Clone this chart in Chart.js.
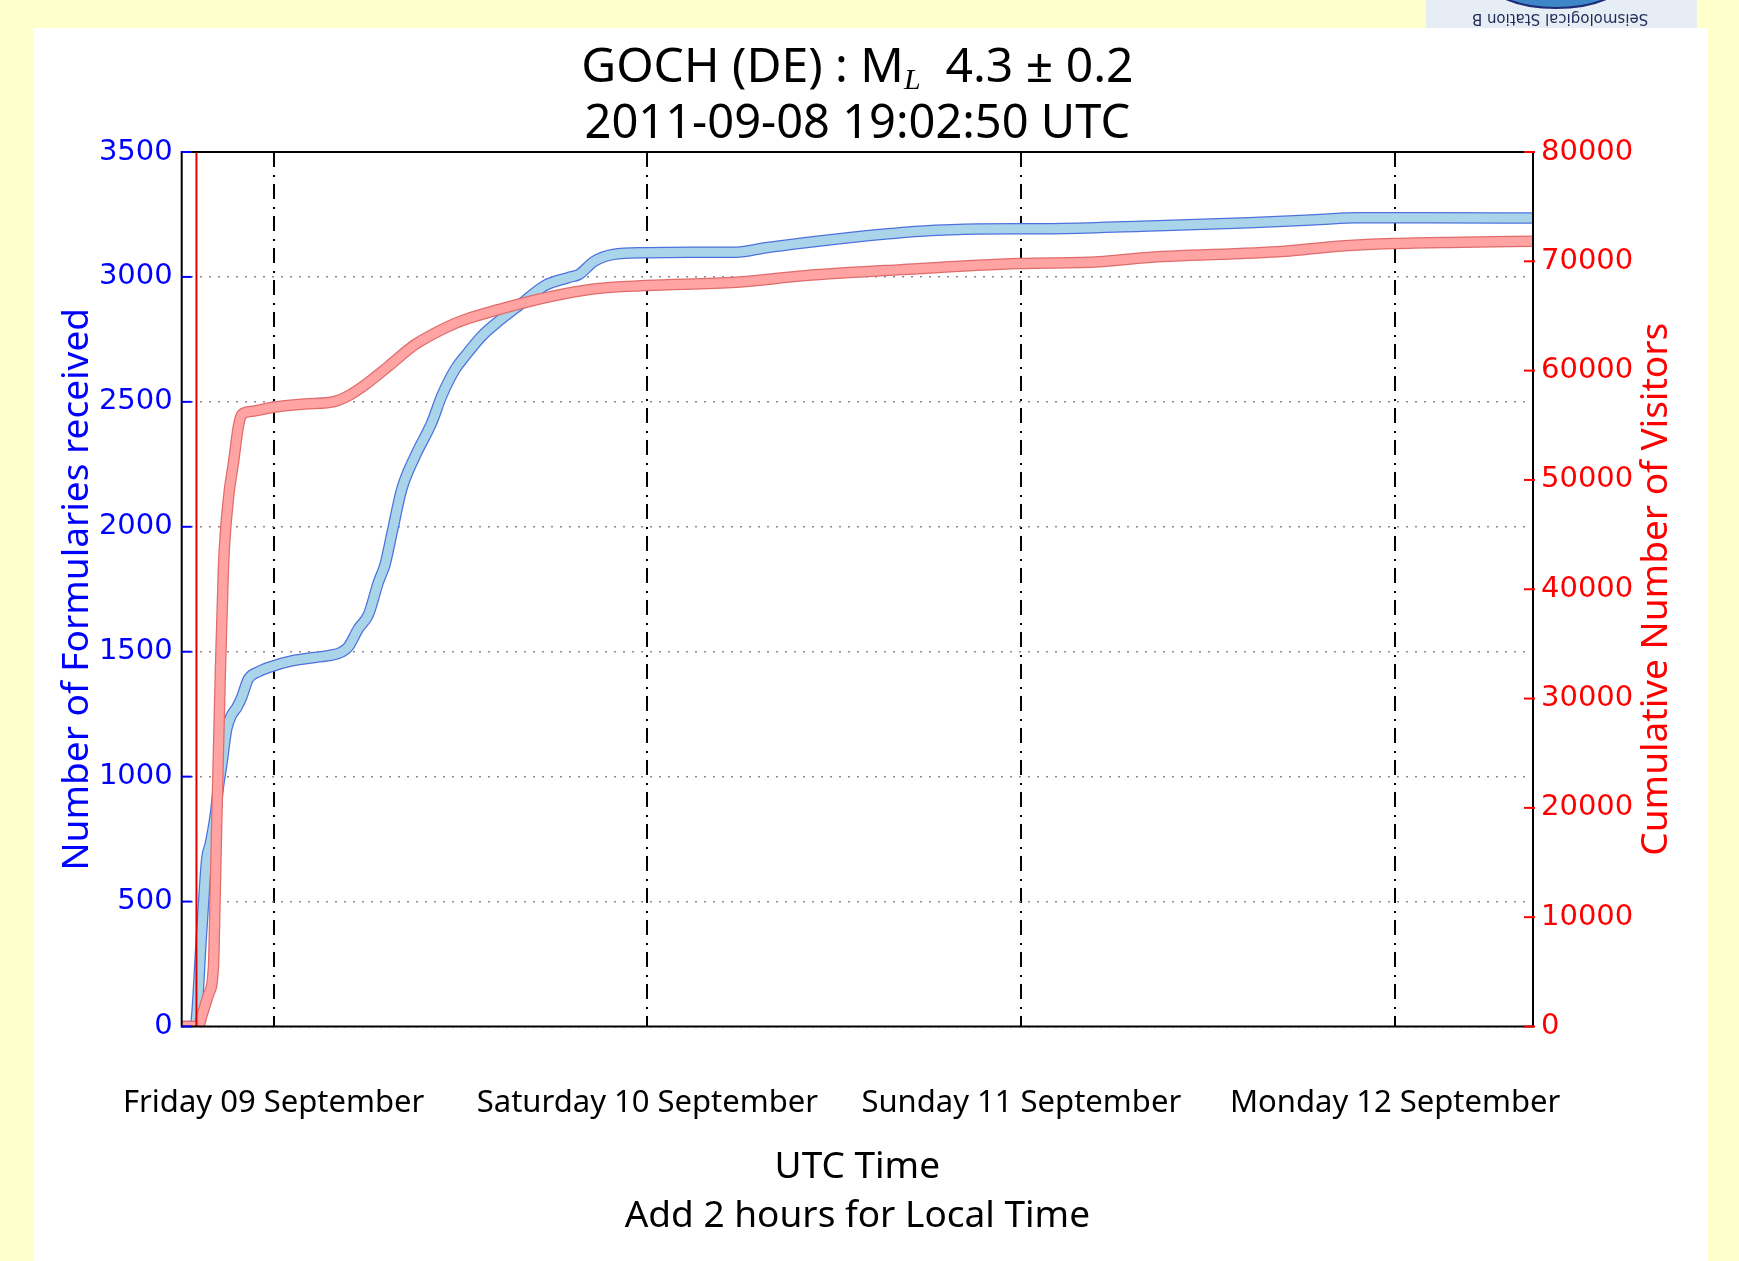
<!DOCTYPE html>
<html>
<head>
<meta charset="utf-8">
<script src="https://cdn.jsdelivr.net/npm/chart.js@4.4.0/dist/chart.umd.min.js"></script>
<style>
html, body { margin: 0; padding: 0; background: #ffffcc; }
#wrap { width: 1739px; height: 1261px; }
</style>
</head>
<body>
<div id="wrap"><canvas id="goch" width="1739" height="1261"></canvas></div>
<script>
// x values: hours since 2011-09-08 18:00 UTC
const formHours = [0.1, 0.95, 1.39, 1.71, 1.93, 2.25, 2.46, 2.67, 2.99, 3.31, 3.63, 3.96, 4.38, 5.03, 5.88,
  7.16, 8.66, 9.52, 10.37, 10.8, 11.44, 12.09, 12.73, 13.16, 13.6, 14.22, 15.08, 16.15, 16.79, 17.65,
  18.29, 19.36, 20.43, 21.9, 23.4, 24.9, 25.6, 26.6, 27.8, 29.9, 32.7, 35.7, 37.6, 40.1, 43.8,
  47.5, 51.2, 56.0, 61.7, 68.6, 73.2, 75.5, 80.0, 86.85];
const formCounts = [0, 0, 386, 673, 730, 845, 960, 1046, 1190, 1247, 1276, 1319, 1391, 1420, 1441,
  1463, 1477, 1484, 1499, 1520, 1592, 1649, 1779, 1850, 1975, 2149, 2282, 2416, 2523, 2630,
  2683, 2763, 2822, 2893, 2965, 2997, 3010, 3063, 3090, 3097, 3099, 3099, 3117, 3137, 3163,
  3183, 3192, 3193, 3203, 3217, 3230, 3237, 3237, 3236];

const visitHours = [0.1, 1.17, 1.39, 1.82, 2.14, 2.25, 2.35, 2.46, 2.57, 2.78, 3.10, 3.42, 3.74, 3.95, 4.6,
  5.88, 8.0, 9.95, 10.8, 11.87, 13.37, 15.08, 17.22, 18.29, 20.43, 22.9, 26.6, 29.9, 35.7, 40.1,
  46.3, 53.9, 59.0, 61.7, 70.9, 74.3, 77.9, 82.3, 86.85];
const visitCounts = [0, 0, 961, 2920, 5537, 12100, 18660, 25230, 31750, 42000, 48300, 51550, 54900, 55970, 56270,
  56630, 56950, 57190, 57700, 58700, 60390, 62380, 64050, 64670, 65580, 66500, 67480, 67780, 68080, 68690,
  69240, 69790, 69950, 70310, 70920, 71380, 71630, 71750, 71840];

const eventHour = 1.047; // 19:02:50 UTC
const dayHours = [6, 30, 54, 78];
const dayLabels = ['Friday 09 September', 'Saturday 10 September', 'Sunday 11 September', 'Monday 12 September'];
const leftTicks = [0, 500, 1000, 1500, 2000, 2500, 3000, 3500];
const rightTicks = [0, 10000, 20000, 30000, 40000, 50000, 60000, 70000, 80000];

const TITLE_FONT = '"Noto Sans", sans-serif';
const TICK_FONT = 'DejaVu Sans';

const formPts = formHours.map((h, i) => ({ x: h, y: formCounts[i] }));
const visitPts = visitHours.map((h, i) => ({ x: h, y: visitCounts[i] }));

// yellow page, white panel, logo corner
const backdrop = {
  id: 'backdrop',
  beforeDraw(chart) {
    const c = chart.ctx;
    c.save();
    c.fillStyle = '#ffffcc';
    c.fillRect(0, 0, chart.width, chart.height);
    c.fillStyle = '#ffffff';
    c.fillRect(33, 28, 1675, 1233);
    // logo strip
    c.fillStyle = '#e7edf5';
    c.fillRect(1426, 0, 271, 28);
    c.beginPath();
    c.rect(1426, 0, 271, 28);
    c.clip();
    c.beginPath();
    c.ellipse(1556, -22, 70, 30, 0, 0, Math.PI);
    c.fillStyle = '#3f86c8';
    c.fill();
    c.strokeStyle = '#1d2a75';
    c.lineWidth = 2;
    c.stroke();
    c.translate(1560, 18);
    c.rotate(Math.PI);
    c.fillStyle = '#1d2a55';
    c.font = '15px "DejaVu Sans"';
    c.textAlign = 'center';
    c.textBaseline = 'middle';
    c.fillText('Seismological Station B', 0, 0);
    c.restore();
  }
};

// frame, inward ticks, right axis title, main title
const decor = {
  id: 'decor',
  afterDraw(chart) {
    const c = chart.ctx;
    const a = chart.chartArea;
    const yL = chart.scales.yL, yR = chart.scales.yR;
    c.save();
    c.strokeStyle = '#000';
    c.lineWidth = 2;
    c.strokeRect(a.left, a.top, a.right - a.left, a.bottom - a.top);

    c.lineWidth = 2;
    c.strokeStyle = '#0000ff';
    leftTicks.forEach(v => {
      const y = yL.getPixelForValue(v);
      c.beginPath(); c.moveTo(a.left, y); c.lineTo(a.left + 10, y); c.stroke();
    });
    c.strokeStyle = '#ff0000';
    rightTicks.forEach(v => {
      const y = yR.getPixelForValue(v);
      c.beginPath(); c.moveTo(a.right - 9, y); c.lineTo(a.right + 2, y); c.stroke();
    });

    // right title reads bottom to top
    c.save();
    c.translate(1656, (a.top + a.bottom) / 2);
    c.rotate(-Math.PI / 2);
    c.fillStyle = '#ff0000';
    c.font = '37px ' + TITLE_FONT;
    c.textAlign = 'center';
    c.textBaseline = 'middle';
    c.fillText('Cumulative Number of Visitors', 0, 0);
    c.restore();

    // title with subscript L
    const cx = (a.left + a.right) / 2;
    const big = '48px ' + TITLE_FONT;
    const sub = 'italic 30px "Liberation Serif", serif';
    const p1 = 'GOCH (DE) : M', p2 = 'L', p3 = '  4.3 \u00b1 0.2';
    c.fillStyle = '#000';
    c.textBaseline = 'middle';
    c.textAlign = 'left';
    c.font = big; const w1 = c.measureText(p1).width, w3 = c.measureText(p3).width;
    c.font = sub; const w2 = c.measureText(p2).width;
    let x = cx - (w1 + w2 + w3) / 2;
    const y1 = 68;
    c.font = big; c.fillText(p1, x, y1); x += w1;
    c.font = sub; c.fillText(p2, x, y1 + 13); x += w2;
    c.font = big; c.fillText(p3, x, y1);
    c.textAlign = 'center';
    c.font = '47px ' + TITLE_FONT;
    c.fillText('2011-09-08 19:02:50 UTC', cx, 125);
    c.restore();
  }
};

new Chart(document.getElementById('goch'), {
  type: 'line',
  data: {
    datasets: [
      { data: [{ x: eventHour, y: 0 }, { x: eventHour, y: 3500 }], yAxisID: 'yL',
        borderColor: '#e00000', borderWidth: 2, pointRadius: 0, order: 1 },
      { data: visitPts, yAxisID: 'yR', borderColor: '#ffa3a3', borderWidth: 9, order: 2 },
      { data: visitPts, yAxisID: 'yR', borderColor: '#e06c6c', borderWidth: 11.5, order: 3 },
      { data: formPts, yAxisID: 'yL', borderColor: '#aad4ea', borderWidth: 9, order: 4 },
      { data: formPts, yAxisID: 'yL', borderColor: '#4d72dc', borderWidth: 11.5, order: 5 }
    ]
  },
  options: {
    responsive: false,
    animation: false,
    devicePixelRatio: 1,
    layout: { padding: { top: 152, left: 0, right: 0, bottom: 0 } },
    elements: {
      point: { radius: 0 },
      line: { cubicInterpolationMode: 'monotone', borderJoinStyle: 'round', borderCapStyle: 'round' }
    },
    plugins: { legend: { display: false }, tooltip: { enabled: false }, title: { display: false } },
    scales: {
      x: {
        type: 'linear',
        min: 0.1,
        max: 86.85,
        z: 1,
        afterBuildTicks: s => { s.ticks = dayHours.map(v => ({ value: v })); },
        afterFit: s => { s.height = 234.5; },
        ticks: {
          callback: v => dayLabels[dayHours.indexOf(v)],
          color: '#000',
          font: { family: TITLE_FONT, size: 31 },
          padding: 58,
          maxRotation: 0,
          autoSkip: false
        },
        grid: { color: '#000', lineWidth: 2, drawTicks: false },
        border: { display: false, dash: [15, 8, 2, 7] },
        title: {
          display: true,
          text: ['UTC Time', 'Add 2 hours for Local Time'],
          color: '#000',
          font: { family: TITLE_FONT, size: 37, lineHeight: 1.32 },
          padding: { top: 0, bottom: 20 }
        }
      },
      yL: {
        type: 'linear',
        position: 'left',
        min: 0,
        max: 3500,
        afterBuildTicks: s => { s.ticks = leftTicks.map(v => ({ value: v })); },
        afterFit: s => { s.width = 181.7; },
        ticks: { callback: v => String(v), color: '#0000ff', font: { family: TICK_FONT, size: 29 }, padding: 9 },
        grid: { color: '#8a8a8a', lineWidth: 1.5, drawTicks: false },
        border: { display: false, dash: [2, 7] },
        title: {
          display: true,
          text: 'Number of Formularies received',
          color: '#0000ff',
          font: { family: TITLE_FONT, size: 37 },
          padding: { top: 55, bottom: 0 }
        }
      },
      yR: {
        type: 'linear',
        position: 'right',
        min: 0,
        max: 80000,
        afterBuildTicks: s => { s.ticks = rightTicks.map(v => ({ value: v })); },
        afterFit: s => { s.width = 206; },
        ticks: { callback: v => String(v), color: '#ff0000', font: { family: TICK_FONT, size: 29 }, padding: 8 },
        grid: { display: false, drawTicks: false },
        border: { display: false }
      }
    }
  },
  plugins: [backdrop, decor]
});
</script>
</body>
</html>
